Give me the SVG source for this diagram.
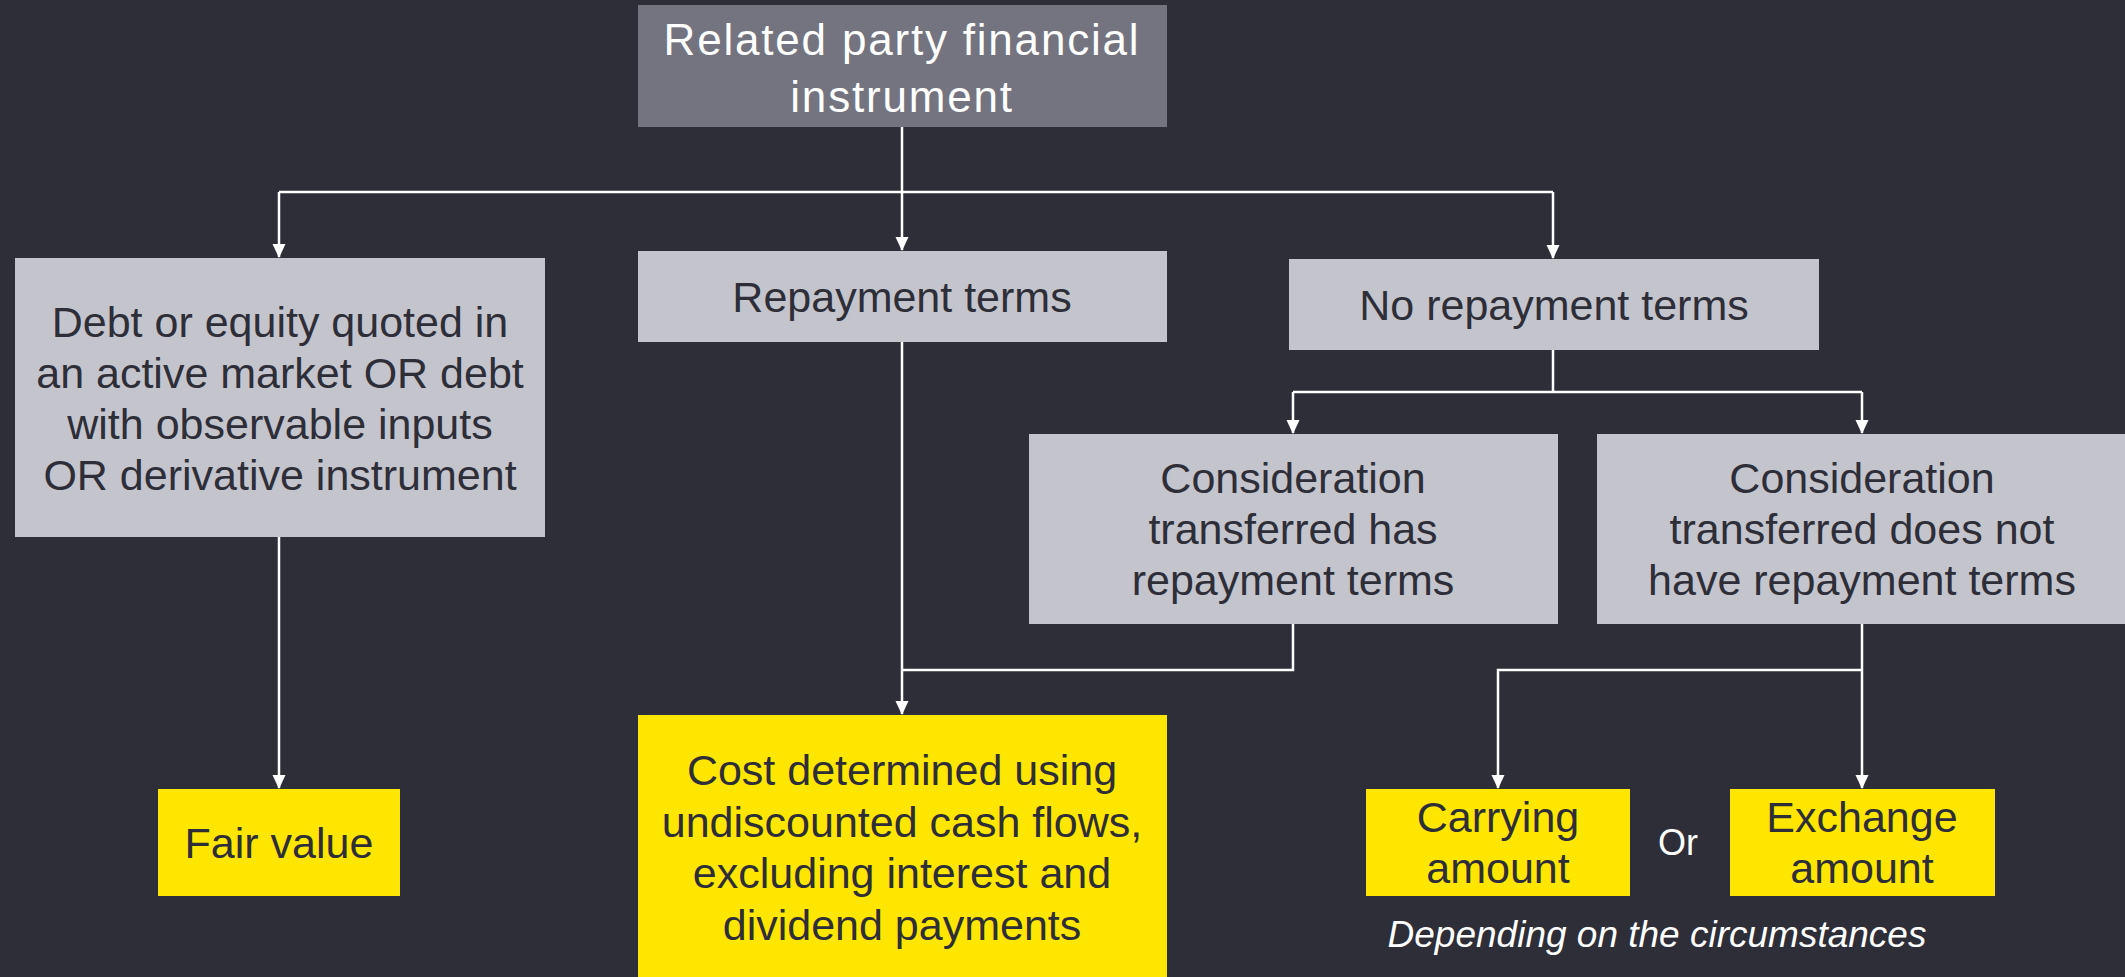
<svg xmlns="http://www.w3.org/2000/svg" width="2125" height="977" viewBox="0 0 2125 977">
<style>
.bg{fill:#2e2e38}
.top{fill:#747480}
.gray{fill:#c4c4cd}
.yel{fill:#ffe600}
text{font-family:"Liberation Sans",Arial,sans-serif;text-anchor:middle}
.t{font-size:43px;fill:#2e2e38}
.tt{font-size:44px;fill:#ffffff;letter-spacing:1.8px}
.w{font-size:36px;fill:#ffffff}
.it{font-size:37px;fill:#ffffff;font-style:italic}
.c{fill:none;stroke:#ffffff;stroke-width:2.5}
</style>
<defs>
<marker id="ah" markerWidth="14" markerHeight="15" refX="14" refY="7" orient="auto" markerUnits="userSpaceOnUse" viewBox="0 0 15 14">
<path d="M0,0 L15,7 L0,14 Z" fill="#ffffff"/>
</marker>
</defs>
<rect class="bg" x="0" y="0" width="2125" height="977"/>
<g id="connectors">
<path class="c" d="M902,127 V250" marker-end="url(#ah)"/>
<path class="c" d="M279,192 H1553"/>
<path class="c" d="M279,192 V257" marker-end="url(#ah)"/>
<path class="c" d="M1553,192 V258" marker-end="url(#ah)"/>
<path class="c" d="M279,537 V788" marker-end="url(#ah)"/>
<path class="c" d="M902,342 V714" marker-end="url(#ah)"/>
<path class="c" d="M1293,624 V670 H902"/>
<path class="c" d="M1553,350 V392"/>
<path class="c" d="M1293,392 H1862"/>
<path class="c" d="M1293,392 V433" marker-end="url(#ah)"/>
<path class="c" d="M1862,392 V433" marker-end="url(#ah)"/>
<path class="c" d="M1862,624 V788" marker-end="url(#ah)"/>
<path class="c" d="M1862,670 H1498 V788" marker-end="url(#ah)"/>
</g>
<g id="n-root">
<rect class="top" x="638" y="5" width="529" height="122"/>
<text class="tt" x="902" y="55">Related party financial</text>
<text class="tt" x="902" y="112">instrument</text>
</g>
<g id="n-debt">
<rect class="gray" x="15" y="258" width="530" height="279"/>
<text class="t" x="280" y="337">Debt or equity quoted in</text>
<text class="t" x="280" y="388">an active market OR debt</text>
<text class="t" x="280" y="439">with observable inputs</text>
<text class="t" x="280" y="490">OR derivative instrument</text>
</g>
<g id="n-repay">
<rect class="gray" x="638" y="251" width="529" height="91"/>
<text class="t" x="902" y="312">Repayment terms</text>
</g>
<g id="n-norepay">
<rect class="gray" x="1289" y="259" width="530" height="91"/>
<text class="t" x="1554" y="320">No repayment terms</text>
</g>
<g id="n-conshas">
<rect class="gray" x="1029" y="434" width="529" height="190"/>
<text class="t" x="1293" y="493">Consideration</text>
<text class="t" x="1293" y="544">transferred has</text>
<text class="t" x="1293" y="595">repayment terms</text>
</g>
<g id="n-consnot">
<rect class="gray" x="1597" y="434" width="528" height="190"/>
<text class="t" x="1862" y="493">Consideration</text>
<text class="t" x="1862" y="544">transferred does not</text>
<text class="t" x="1862" y="595">have repayment terms</text>
</g>
<g id="n-fair">
<rect class="yel" x="158" y="789" width="242" height="107"/>
<text class="t" x="279" y="858">Fair value</text>
</g>
<g id="n-cost">
<rect class="yel" x="638" y="715" width="529" height="262"/>
<text class="t" x="902" y="785">Cost determined using</text>
<text class="t" x="902" y="837">undiscounted cash flows,</text>
<text class="t" x="902" y="888">excluding interest and</text>
<text class="t" x="902" y="940">dividend payments</text>
</g>
<g id="n-carrying">
<rect class="yel" x="1366" y="789" width="264" height="107"/>
<text class="t" x="1498" y="832">Carrying</text>
<text class="t" x="1498" y="883">amount</text>
</g>
<g id="n-exchange">
<rect class="yel" x="1730" y="789" width="265" height="107"/>
<text class="t" x="1862" y="832">Exchange</text>
<text class="t" x="1862" y="883">amount</text>
</g>
<g id="labels">
<text class="w" x="1678" y="855">Or</text>
<text class="it" x="1657" y="947">Depending on the circumstances</text>
</g>
</svg>
